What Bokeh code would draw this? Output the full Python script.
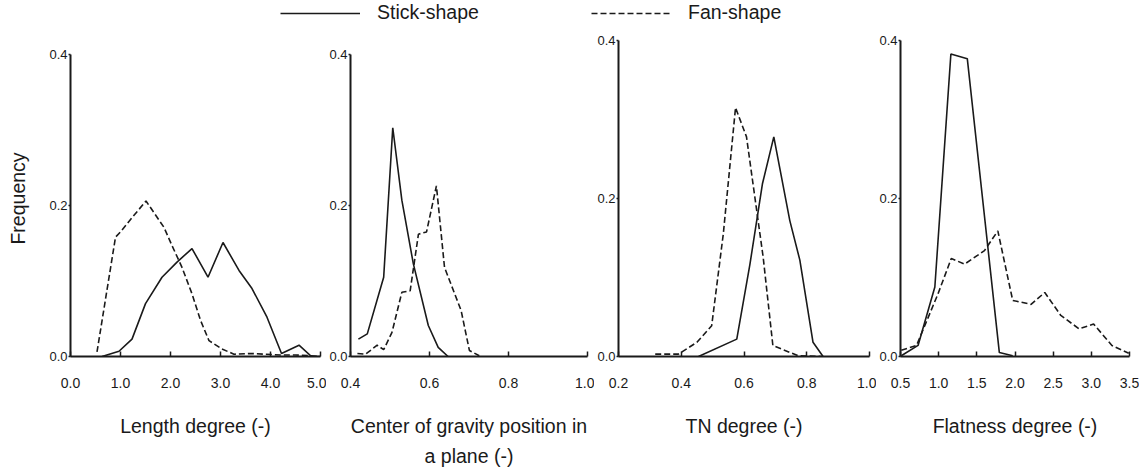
from bokeh.plotting import figure
from bokeh.layouts import column, row
from bokeh.models import Range1d, FixedTicker, Legend, LegendItem, Title, NumeralTickFormatter
from bokeh.embed import file_html
from bokeh.resources import INLINE

FONT = "Liberation Sans"
INK = "#1a1a1a"

# ---------------- data ----------------
series_names = ["Stick-shape", "Fan-shape"]
y_ticks = [0.0, 0.2, 0.4]

# Length degree
len_x_stick = [0.63, 0.97, 1.23, 1.5, 1.83, 2.13, 2.43, 2.75, 3.05, 3.37, 3.63, 3.93, 4.22, 4.57, 4.82, 5.0]
len_y_stick = [0.0, 0.007, 0.023, 0.07, 0.105, 0.125, 0.143, 0.105, 0.151, 0.114, 0.09, 0.052, 0.004, 0.015, 0.0, 0.0]
len_x_fan = [0.53, 0.9, 1.0, 1.27, 1.51, 1.87, 2.03, 2.23, 2.43, 2.6, 2.77, 3.03, 3.27, 3.6, 3.9, 4.2, 4.5, 4.8, 5.0]
len_y_fan = [0.006, 0.158, 0.165, 0.187, 0.206, 0.171, 0.147, 0.118, 0.083, 0.048, 0.021, 0.01, 0.003, 0.004, 0.003, 0.002, 0.002, 0.001, 0.0]
len_ticks = [0.0, 1.0, 2.0, 3.0, 4.0, 5.0]

# Center of gravity position in a plane
cg_x_stick = [0.42, 0.4425, 0.484, 0.507, 0.53, 0.559, 0.597, 0.622, 0.647]
cg_y_stick = [0.023, 0.03, 0.105, 0.303, 0.207, 0.123, 0.041, 0.012, 0.0]
cg_x_fan = [0.4175, 0.438, 0.4675, 0.484, 0.505, 0.53, 0.551, 0.572, 0.5925, 0.6175, 0.638, 0.68, 0.701, 0.726]
cg_y_fan = [0.004, 0.003, 0.015, 0.009, 0.032, 0.085, 0.087, 0.162, 0.165, 0.226, 0.118, 0.061, 0.008, 0.001]
cg_ticks = [0.4, 0.6, 0.8, 1.0]

# TN degree
tn_x_stick = [0.455, 0.577, 0.619, 0.659, 0.695, 0.746, 0.778, 0.82, 0.852]
tn_y_stick = [0.0, 0.022, 0.117, 0.219, 0.278, 0.172, 0.122, 0.018, 0.0]
tn_x_fan = [0.317, 0.391, 0.45, 0.497, 0.534, 0.573, 0.608, 0.661, 0.692, 0.772, 0.85]
tn_y_fan = [0.003, 0.003, 0.018, 0.039, 0.155, 0.315, 0.278, 0.126, 0.014, 0.001, 0.0]
tn_ticks = [0.2, 0.4, 0.6, 0.8, 1.0]

# Flatness degree
fl_x_stick = [0.51, 0.73, 0.95, 1.16, 1.375, 1.795, 1.97]
fl_y_stick = [0.001, 0.014, 0.088, 0.383, 0.377, 0.005, 0.001]
fl_x_fan = [0.51, 0.71, 0.99, 1.165, 1.34, 1.6, 1.775, 1.97, 2.21, 2.39, 2.6, 2.84, 3.03, 3.27, 3.49]
fl_y_fan = [0.008, 0.014, 0.079, 0.124, 0.117, 0.134, 0.159, 0.071, 0.066, 0.081, 0.052, 0.035, 0.041, 0.014, 0.004]
fl_ticks = [0.5, 1.0, 1.5, 2.0, 2.5, 3.0, 3.5]

# ---------------- layout ----------------
LEG_H = 28
BT = 12            # frame top at y=40
FRAME_H = 316      # frame bottom at y=356
BB = 114
FIG_H = BT + FRAME_H + BB
DASH = "6 3"
LW = 1.6
TITLE_PX = "19.5px"

panels = [
    dict(xs=len_x_stick, ys=len_y_stick, xf=len_x_fan, yf=len_y_fan, ticks=len_ticks,
         title="Length degree (-)", width=326, bl=70, br=6, ytop=0.4 * 316 / 302, ylabel="Frequency", extra=None),
    dict(xs=cg_x_stick, ys=cg_y_stick, xf=cg_x_fan, yf=cg_y_fan, ticks=cg_ticks,
         title="Center of gravity position in", width=268, bl=21, br=7, ytop=0.4 * 316 / 302, ylabel=None, extra="a plane (-)"),
    dict(xs=tn_x_stick, ys=tn_y_stick, xf=tn_x_fan, yf=tn_y_fan, ticks=tn_ticks,
         title="TN degree (-)", width=282, bl=21, br=7, ytop=0.4, ylabel=None, extra=None),
    dict(xs=fl_x_stick, ys=fl_y_stick, xf=fl_x_fan, yf=fl_y_fan, ticks=fl_ticks,
         title="Flatness degree (-)", width=263, bl=21, br=10, ytop=0.4, ylabel=None, extra=None),
]

figs = []
for cfg in panels:
    p = figure(width=cfg["width"], height=FIG_H,
               x_range=Range1d(cfg["ticks"][0], cfg["ticks"][-1]),
               y_range=Range1d(y_ticks[0], cfg["ytop"]),
               toolbar_location=None, output_backend="svg",
               min_border_left=cfg["bl"], min_border_right=cfg["br"],
               min_border_top=BT, min_border_bottom=BB)
    p.grid.visible = False
    p.outline_line_color = None
    p.background_fill_color = "white"
    p.border_fill_color = "white"

    p.line(cfg["xs"], cfg["ys"], line_color=INK, line_width=LW)
    p.line(cfg["xf"], cfg["yf"], line_color=INK, line_width=LW, line_dash=DASH)

    xa = p.xaxis[0]
    xa.ticker = FixedTicker(ticks=cfg["ticks"])
    xa.formatter = NumeralTickFormatter(format="0.0")
    xa.major_tick_in = 5
    xa.major_tick_out = 0
    xa.minor_tick_line_color = None
    xa.axis_line_width = 2
    xa.axis_line_color = INK
    xa.major_tick_line_color = INK
    xa.major_tick_line_width = 1.5
    xa.major_label_standoff = 21
    xa.major_label_text_font = FONT
    xa.major_label_text_font_size = "14px"
    xa.major_label_text_color = INK
    xa.axis_label = cfg["title"]
    xa.axis_label_standoff = 24
    xa.axis_label_text_font = FONT
    xa.axis_label_text_font_size = TITLE_PX
    xa.axis_label_text_font_style = "normal"
    xa.axis_label_text_color = INK

    ya = p.yaxis[0]
    ya.bounds = (y_ticks[0], y_ticks[-1])
    ya.ticker = FixedTicker(ticks=y_ticks)
    ya.formatter = NumeralTickFormatter(format="0.0")
    ya.major_tick_in = 0
    ya.major_tick_out = 2
    ya.minor_tick_line_color = None
    ya.axis_line_width = 2
    ya.axis_line_color = INK
    ya.major_tick_line_color = INK
    ya.major_tick_line_width = 1.5
    ya.major_label_standoff = 1
    ya.major_label_text_font = FONT
    ya.major_label_text_font_size = "13px"
    ya.major_label_text_color = INK
    if cfg["ylabel"]:
        ya.axis_label = cfg["ylabel"]
        ya.axis_label_standoff = 17
        ya.axis_label_text_font = FONT
        ya.axis_label_text_font_size = TITLE_PX
        ya.axis_label_text_font_style = "normal"
        ya.axis_label_text_color = INK

    if cfg["extra"]:
        t = Title(text=cfg["extra"], align="center", text_font=FONT, text_font_size=TITLE_PX,
                  text_font_style="normal", text_color=INK, standoff=7)
        p.add_layout(t, "below")

    figs.append(p)

# ---------------- legend strip ----------------
# legend sample glyphs: the series drawn into an off-view range, so only the legend shows them
leg = figure(width=1139, height=LEG_H, x_range=Range1d(0, 1), y_range=Range1d(10, 11),
             toolbar_location=None, output_backend="svg", min_border=0)
leg.axis.visible = False
leg.grid.visible = False
leg.outline_line_color = None
r_stick = leg.line(len_x_stick, len_y_stick, line_color=INK, line_width=LW)
r_fan = leg.line(len_x_fan, len_y_fan, line_color=INK, line_width=LW, line_dash=DASH)

for name, rend, xloc in [(series_names[0], r_stick, 280), (series_names[1], r_fan, 591)]:
    lg = Legend(items=[LegendItem(label=name, renderers=[rend])], location=(xloc, 4),
                orientation="horizontal", glyph_width=80, glyph_height=20, label_height=20,
                label_standoff=17, padding=0, margin=0, spacing=0,
                border_line_color=None, background_fill_alpha=0,
                label_text_font=FONT, label_text_font_size=TITLE_PX, label_text_color=INK)
    leg.add_layout(lg)

layout = column(leg, row(*figs))
open("out.html", "w").write(file_html(layout, INLINE))
